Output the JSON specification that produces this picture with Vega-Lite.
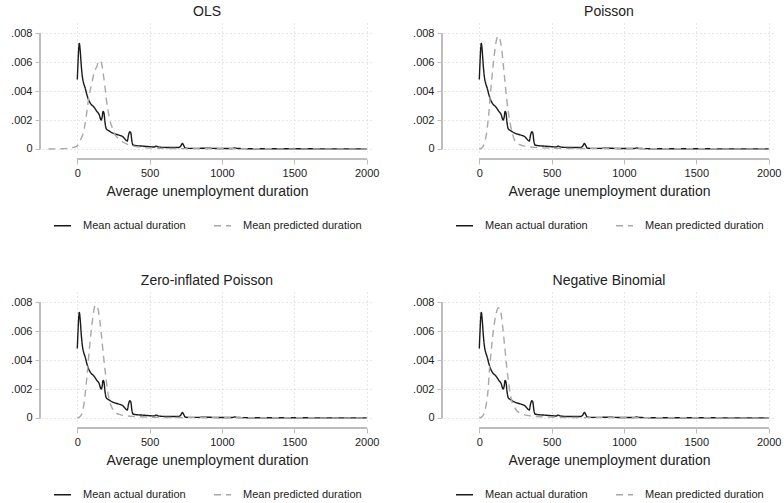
{
  "$schema": "https://vega.github.io/schema/vega-lite/v6.json",
  "padding": {"left": 10, "top": 5, "right": 5, "bottom": 5},
  "background": "white",
  "config": {
    "font": "Liberation Sans",
    "view": {"stroke": null},
    "title": {"fontSize": 14, "fontWeight": "normal", "color": "#222222", "offset": 4, "anchor": "middle"},
    "axis": {
      "domain": false,
      "tickColor": "#bdbdbd",
      "tickSize": 5,
      "labelFontSize": 11,
      "labelColor": "#222222",
      "labelFont": "Liberation Sans",
      "titleFont": "Liberation Sans",
      "titleFontSize": 14,
      "titleFontWeight": "normal",
      "titleColor": "#222222",
      "grid": true,
      "gridColor": "#cfcfcf",
      "gridDash": [1, 3],
      "labelFlush": false,
      "labelOverlap": false
    },
    "legend": {
      "orient": "bottom",
      "direction": "horizontal",
      "title": null,
      "symbolType": "stroke",
      "symbolSize": 289,
      "symbolStrokeWidth": 1.5,
      "labelFontSize": 11,
      "labelColor": "#222222",
      "labelOffset": 11,
      "columnPadding": 25,
      "layout": {"bottom": {"anchor": "middle"}}
    }
  },
  "datasets": {
    "curves": [
      {"model": "all", "series": "Mean actual duration", "x": 0, "y": 0.0048},
      {"model": "all", "series": "Mean actual duration", "x": 5, "y": 0.0060},
      {"model": "all", "series": "Mean actual duration", "x": 10, "y": 0.0070},
      {"model": "all", "series": "Mean actual duration", "x": 14, "y": 0.0073},
      {"model": "all", "series": "Mean actual duration", "x": 20, "y": 0.0068},
      {"model": "all", "series": "Mean actual duration", "x": 28, "y": 0.0057},
      {"model": "all", "series": "Mean actual duration", "x": 35, "y": 0.0050},
      {"model": "all", "series": "Mean actual duration", "x": 45, "y": 0.0045},
      {"model": "all", "series": "Mean actual duration", "x": 55, "y": 0.0042},
      {"model": "all", "series": "Mean actual duration", "x": 65, "y": 0.0038},
      {"model": "all", "series": "Mean actual duration", "x": 78, "y": 0.0034},
      {"model": "all", "series": "Mean actual duration", "x": 95, "y": 0.0031},
      {"model": "all", "series": "Mean actual duration", "x": 115, "y": 0.0029},
      {"model": "all", "series": "Mean actual duration", "x": 135, "y": 0.0026},
      {"model": "all", "series": "Mean actual duration", "x": 150, "y": 0.0024},
      {"model": "all", "series": "Mean actual duration", "x": 165, "y": 0.0020},
      {"model": "all", "series": "Mean actual duration", "x": 172, "y": 0.0022},
      {"model": "all", "series": "Mean actual duration", "x": 178, "y": 0.0026},
      {"model": "all", "series": "Mean actual duration", "x": 184, "y": 0.0025},
      {"model": "all", "series": "Mean actual duration", "x": 192, "y": 0.0018},
      {"model": "all", "series": "Mean actual duration", "x": 200, "y": 0.0014},
      {"model": "all", "series": "Mean actual duration", "x": 215, "y": 0.00128},
      {"model": "all", "series": "Mean actual duration", "x": 240, "y": 0.00112},
      {"model": "all", "series": "Mean actual duration", "x": 275, "y": 0.0010},
      {"model": "all", "series": "Mean actual duration", "x": 300, "y": 0.00092},
      {"model": "all", "series": "Mean actual duration", "x": 315, "y": 0.00085},
      {"model": "all", "series": "Mean actual duration", "x": 328, "y": 0.0007},
      {"model": "all", "series": "Mean actual duration", "x": 345, "y": 0.00055},
      {"model": "all", "series": "Mean actual duration", "x": 355, "y": 0.0010},
      {"model": "all", "series": "Mean actual duration", "x": 363, "y": 0.0012},
      {"model": "all", "series": "Mean actual duration", "x": 370, "y": 0.0011},
      {"model": "all", "series": "Mean actual duration", "x": 378, "y": 0.0005},
      {"model": "all", "series": "Mean actual duration", "x": 386, "y": 0.00027},
      {"model": "all", "series": "Mean actual duration", "x": 400, "y": 0.00024},
      {"model": "all", "series": "Mean actual duration", "x": 450, "y": 0.0002},
      {"model": "all", "series": "Mean actual duration", "x": 500, "y": 0.00016},
      {"model": "all", "series": "Mean actual duration", "x": 530, "y": 0.00014},
      {"model": "all", "series": "Mean actual duration", "x": 545, "y": 0.0002},
      {"model": "all", "series": "Mean actual duration", "x": 560, "y": 0.00014},
      {"model": "all", "series": "Mean actual duration", "x": 600, "y": 0.00011},
      {"model": "all", "series": "Mean actual duration", "x": 650, "y": 0.0001},
      {"model": "all", "series": "Mean actual duration", "x": 700, "y": 0.0001},
      {"model": "all", "series": "Mean actual duration", "x": 715, "y": 0.0002},
      {"model": "all", "series": "Mean actual duration", "x": 726, "y": 0.00038},
      {"model": "all", "series": "Mean actual duration", "x": 736, "y": 0.00024},
      {"model": "all", "series": "Mean actual duration", "x": 746, "y": 0.00006},
      {"model": "all", "series": "Mean actual duration", "x": 780, "y": 0.00004},
      {"model": "all", "series": "Mean actual duration", "x": 900, "y": 0.00005},
      {"model": "all", "series": "Mean actual duration", "x": 1000, "y": 0.00003},
      {"model": "all", "series": "Mean actual duration", "x": 1070, "y": 0.00003},
      {"model": "all", "series": "Mean actual duration", "x": 1088, "y": 0.00008},
      {"model": "all", "series": "Mean actual duration", "x": 1105, "y": 0.00004},
      {"model": "all", "series": "Mean actual duration", "x": 1200, "y": 0.00002},
      {"model": "all", "series": "Mean actual duration", "x": 1450, "y": 0.00002},
      {"model": "all", "series": "Mean actual duration", "x": 1700, "y": 0.00001},
      {"model": "all", "series": "Mean actual duration", "x": 2000, "y": 0.00001},

      {"model": "OLS", "series": "Mean predicted duration", "x": -200, "y": 0.0},
      {"model": "OLS", "series": "Mean predicted duration", "x": -150, "y": 0.00001},
      {"model": "OLS", "series": "Mean predicted duration", "x": -100, "y": 0.00002},
      {"model": "OLS", "series": "Mean predicted duration", "x": -60, "y": 0.00004},
      {"model": "OLS", "series": "Mean predicted duration", "x": -30, "y": 0.0001},
      {"model": "OLS", "series": "Mean predicted duration", "x": -10, "y": 0.00016},
      {"model": "OLS", "series": "Mean predicted duration", "x": 0, "y": 0.00023},
      {"model": "OLS", "series": "Mean predicted duration", "x": 15, "y": 0.0005},
      {"model": "OLS", "series": "Mean predicted duration", "x": 30, "y": 0.0008},
      {"model": "OLS", "series": "Mean predicted duration", "x": 42, "y": 0.00115},
      {"model": "OLS", "series": "Mean predicted duration", "x": 55, "y": 0.0018},
      {"model": "OLS", "series": "Mean predicted duration", "x": 65, "y": 0.0025},
      {"model": "OLS", "series": "Mean predicted duration", "x": 77, "y": 0.0034},
      {"model": "OLS", "series": "Mean predicted duration", "x": 90, "y": 0.0041},
      {"model": "OLS", "series": "Mean predicted duration", "x": 100, "y": 0.0045},
      {"model": "OLS", "series": "Mean predicted duration", "x": 112, "y": 0.0051},
      {"model": "OLS", "series": "Mean predicted duration", "x": 125, "y": 0.0055},
      {"model": "OLS", "series": "Mean predicted duration", "x": 135, "y": 0.0057},
      {"model": "OLS", "series": "Mean predicted duration", "x": 145, "y": 0.0060},
      {"model": "OLS", "series": "Mean predicted duration", "x": 158, "y": 0.0061},
      {"model": "OLS", "series": "Mean predicted duration", "x": 168, "y": 0.0059},
      {"model": "OLS", "series": "Mean predicted duration", "x": 178, "y": 0.0053},
      {"model": "OLS", "series": "Mean predicted duration", "x": 190, "y": 0.0044},
      {"model": "OLS", "series": "Mean predicted duration", "x": 200, "y": 0.0035},
      {"model": "OLS", "series": "Mean predicted duration", "x": 210, "y": 0.0028},
      {"model": "OLS", "series": "Mean predicted duration", "x": 225, "y": 0.0020},
      {"model": "OLS", "series": "Mean predicted duration", "x": 240, "y": 0.0015},
      {"model": "OLS", "series": "Mean predicted duration", "x": 260, "y": 0.0010},
      {"model": "OLS", "series": "Mean predicted duration", "x": 287, "y": 0.0007},
      {"model": "OLS", "series": "Mean predicted duration", "x": 320, "y": 0.00045},
      {"model": "OLS", "series": "Mean predicted duration", "x": 360, "y": 0.00028},
      {"model": "OLS", "series": "Mean predicted duration", "x": 400, "y": 0.00018},
      {"model": "OLS", "series": "Mean predicted duration", "x": 450, "y": 0.00011},
      {"model": "OLS", "series": "Mean predicted duration", "x": 500, "y": 0.00007},
      {"model": "OLS", "series": "Mean predicted duration", "x": 600, "y": 0.00004},
      {"model": "OLS", "series": "Mean predicted duration", "x": 700, "y": 0.00003},
      {"model": "OLS", "series": "Mean predicted duration", "x": 800, "y": 0.00002},
      {"model": "OLS", "series": "Mean predicted duration", "x": 1000, "y": 0.00002},
      {"model": "OLS", "series": "Mean predicted duration", "x": 1500, "y": 0.00001},
      {"model": "OLS", "series": "Mean predicted duration", "x": 2000, "y": 0.00001},

      {"model": "Poisson", "series": "Mean predicted duration", "x": 0, "y": 0.0},
      {"model": "Poisson", "series": "Mean predicted duration", "x": 20, "y": 0.0001},
      {"model": "Poisson", "series": "Mean predicted duration", "x": 35, "y": 0.0004},
      {"model": "Poisson", "series": "Mean predicted duration", "x": 45, "y": 0.0008},
      {"model": "Poisson", "series": "Mean predicted duration", "x": 51, "y": 0.00115},
      {"model": "Poisson", "series": "Mean predicted duration", "x": 60, "y": 0.0019},
      {"model": "Poisson", "series": "Mean predicted duration", "x": 68, "y": 0.0027},
      {"model": "Poisson", "series": "Mean predicted duration", "x": 74, "y": 0.0035},
      {"model": "Poisson", "series": "Mean predicted duration", "x": 85, "y": 0.0047},
      {"model": "Poisson", "series": "Mean predicted duration", "x": 97, "y": 0.0059},
      {"model": "Poisson", "series": "Mean predicted duration", "x": 110, "y": 0.0070},
      {"model": "Poisson", "series": "Mean predicted duration", "x": 120, "y": 0.0076},
      {"model": "Poisson", "series": "Mean predicted duration", "x": 131, "y": 0.0078},
      {"model": "Poisson", "series": "Mean predicted duration", "x": 142, "y": 0.0076},
      {"model": "Poisson", "series": "Mean predicted duration", "x": 155, "y": 0.0069},
      {"model": "Poisson", "series": "Mean predicted duration", "x": 166, "y": 0.0058},
      {"model": "Poisson", "series": "Mean predicted duration", "x": 178, "y": 0.0046},
      {"model": "Poisson", "series": "Mean predicted duration", "x": 189, "y": 0.0035},
      {"model": "Poisson", "series": "Mean predicted duration", "x": 200, "y": 0.0026},
      {"model": "Poisson", "series": "Mean predicted duration", "x": 217, "y": 0.0016},
      {"model": "Poisson", "series": "Mean predicted duration", "x": 240, "y": 0.0007},
      {"model": "Poisson", "series": "Mean predicted duration", "x": 260, "y": 0.0004},
      {"model": "Poisson", "series": "Mean predicted duration", "x": 280, "y": 0.0003},
      {"model": "Poisson", "series": "Mean predicted duration", "x": 320, "y": 0.00018},
      {"model": "Poisson", "series": "Mean predicted duration", "x": 400, "y": 0.0001},
      {"model": "Poisson", "series": "Mean predicted duration", "x": 500, "y": 0.00006},
      {"model": "Poisson", "series": "Mean predicted duration", "x": 700, "y": 0.00003},
      {"model": "Poisson", "series": "Mean predicted duration", "x": 1000, "y": 0.00002},
      {"model": "Poisson", "series": "Mean predicted duration", "x": 2000, "y": 0.00001},

      {"model": "ZIP", "series": "Mean predicted duration", "x": 0, "y": 0.0},
      {"model": "ZIP", "series": "Mean predicted duration", "x": 20, "y": 0.0001},
      {"model": "ZIP", "series": "Mean predicted duration", "x": 35, "y": 0.0004},
      {"model": "ZIP", "series": "Mean predicted duration", "x": 45, "y": 0.0009},
      {"model": "ZIP", "series": "Mean predicted duration", "x": 55, "y": 0.0017},
      {"model": "ZIP", "series": "Mean predicted duration", "x": 62, "y": 0.0024},
      {"model": "ZIP", "series": "Mean predicted duration", "x": 70, "y": 0.0032},
      {"model": "ZIP", "series": "Mean predicted duration", "x": 82, "y": 0.0046},
      {"model": "ZIP", "series": "Mean predicted duration", "x": 95, "y": 0.0059},
      {"model": "ZIP", "series": "Mean predicted duration", "x": 108, "y": 0.0070},
      {"model": "ZIP", "series": "Mean predicted duration", "x": 120, "y": 0.0077},
      {"model": "ZIP", "series": "Mean predicted duration", "x": 132, "y": 0.0078},
      {"model": "ZIP", "series": "Mean predicted duration", "x": 144, "y": 0.0075},
      {"model": "ZIP", "series": "Mean predicted duration", "x": 156, "y": 0.0067},
      {"model": "ZIP", "series": "Mean predicted duration", "x": 168, "y": 0.0056},
      {"model": "ZIP", "series": "Mean predicted duration", "x": 180, "y": 0.0044},
      {"model": "ZIP", "series": "Mean predicted duration", "x": 193, "y": 0.0032},
      {"model": "ZIP", "series": "Mean predicted duration", "x": 205, "y": 0.0022},
      {"model": "ZIP", "series": "Mean predicted duration", "x": 220, "y": 0.0013},
      {"model": "ZIP", "series": "Mean predicted duration", "x": 240, "y": 0.0007},
      {"model": "ZIP", "series": "Mean predicted duration", "x": 260, "y": 0.0004},
      {"model": "ZIP", "series": "Mean predicted duration", "x": 290, "y": 0.00025},
      {"model": "ZIP", "series": "Mean predicted duration", "x": 330, "y": 0.00016},
      {"model": "ZIP", "series": "Mean predicted duration", "x": 400, "y": 0.0001},
      {"model": "ZIP", "series": "Mean predicted duration", "x": 500, "y": 0.00006},
      {"model": "ZIP", "series": "Mean predicted duration", "x": 700, "y": 0.00003},
      {"model": "ZIP", "series": "Mean predicted duration", "x": 1000, "y": 0.00002},
      {"model": "ZIP", "series": "Mean predicted duration", "x": 2000, "y": 0.00001},

      {"model": "NB", "series": "Mean predicted duration", "x": 0, "y": 0.0},
      {"model": "NB", "series": "Mean predicted duration", "x": 20, "y": 0.0001},
      {"model": "NB", "series": "Mean predicted duration", "x": 35, "y": 0.0004},
      {"model": "NB", "series": "Mean predicted duration", "x": 45, "y": 0.0008},
      {"model": "NB", "series": "Mean predicted duration", "x": 55, "y": 0.0014},
      {"model": "NB", "series": "Mean predicted duration", "x": 62, "y": 0.0021},
      {"model": "NB", "series": "Mean predicted duration", "x": 69, "y": 0.0032},
      {"model": "NB", "series": "Mean predicted duration", "x": 80, "y": 0.0044},
      {"model": "NB", "series": "Mean predicted duration", "x": 92, "y": 0.0056},
      {"model": "NB", "series": "Mean predicted duration", "x": 105, "y": 0.0066},
      {"model": "NB", "series": "Mean predicted duration", "x": 118, "y": 0.0073},
      {"model": "NB", "series": "Mean predicted duration", "x": 130, "y": 0.0076},
      {"model": "NB", "series": "Mean predicted duration", "x": 140, "y": 0.0076},
      {"model": "NB", "series": "Mean predicted duration", "x": 152, "y": 0.0071},
      {"model": "NB", "series": "Mean predicted duration", "x": 165, "y": 0.0060},
      {"model": "NB", "series": "Mean predicted duration", "x": 178, "y": 0.0047},
      {"model": "NB", "series": "Mean predicted duration", "x": 190, "y": 0.0035},
      {"model": "NB", "series": "Mean predicted duration", "x": 202, "y": 0.0025},
      {"model": "NB", "series": "Mean predicted duration", "x": 217, "y": 0.0015},
      {"model": "NB", "series": "Mean predicted duration", "x": 240, "y": 0.0008},
      {"model": "NB", "series": "Mean predicted duration", "x": 260, "y": 0.0005},
      {"model": "NB", "series": "Mean predicted duration", "x": 290, "y": 0.0003},
      {"model": "NB", "series": "Mean predicted duration", "x": 330, "y": 0.00018},
      {"model": "NB", "series": "Mean predicted duration", "x": 400, "y": 0.0001},
      {"model": "NB", "series": "Mean predicted duration", "x": 500, "y": 0.00006},
      {"model": "NB", "series": "Mean predicted duration", "x": 700, "y": 0.00003},
      {"model": "NB", "series": "Mean predicted duration", "x": 1000, "y": 0.00002},
      {"model": "NB", "series": "Mean predicted duration", "x": 2000, "y": 0.00001}
    ]
  },
  "columns": 2,
  "spacing": {"row": 43, "column": 33},
  "resolve": {
    "scale": {"x": "independent", "y": "independent", "color": "independent", "strokeDash": "independent"},
    "legend": {"color": "independent", "strokeDash": "independent"}
  },
  "concat": [
    {
      "title": "OLS",
      "width": 330, "height": 132,
      "data": {"name": "curves"},
      "transform": [{"filter": "datum.model == 'all' || datum.model == 'OLS'"}],
      "layer": [
        {
          "mark": {"type": "line", "strokeWidth": 1.4, "interpolate": "monotone"},
          "encoding": {
            "x": {"field": "x", "type": "quantitative", "scale": {"domain": [-244, 2037], "nice": false, "zero": false},
                  "axis": {"values": [0, 500, 1000, 1500, 2000], "tickCount": 10, "format": "d", "offset": 4, "title": "Average unemployment duration", "titlePadding": 6, "labelPadding": 3, "labelOverlap": false}},
            "y": {"field": "y", "type": "quantitative", "scale": {"domain": [-0.000415, 0.00871], "nice": false, "zero": false},
                  "axis": {"values": [0, 0.002, 0.004, 0.006, 0.008], "tickCount": 10, "offset": 2, "title": null, "labelPadding": 3, "labelOverlap": false,
                           "labelExpr": "datum.value == 0 ? '0' : slice(format(datum.value, '.3f'), 1)"}},
            "color": {"field": "series", "type": "nominal", "scale": {"domain": ["Mean actual duration", "Mean predicted duration"], "range": ["#1a1a1a", "#a8a8a8"]}},
            "strokeDash": {"field": "series", "type": "nominal", "scale": {"domain": ["Mean actual duration", "Mean predicted duration"], "range": [[1, 0], [7, 5]]}}
          }
        },
        {"mark": {"type": "rule", "color": "#bdbdbd", "strokeWidth": 1},
         "encoding": {"x": {"datum": 0}, "x2": {"datum": 2000}, "y": {"datum": -0.00069}}},
        {"mark": {"type": "rule", "color": "#bdbdbd", "strokeWidth": 1},
         "encoding": {"x": {"datum": -258}, "y": {"datum": 0}, "y2": {"datum": 0.008}}}
      ]
    },
    {
      "title": "Poisson",
      "width": 330, "height": 132,
      "data": {"name": "curves"},
      "transform": [{"filter": "datum.model == 'all' || datum.model == 'Poisson'"}],
      "layer": [
        {
          "mark": {"type": "line", "strokeWidth": 1.4, "interpolate": "monotone"},
          "encoding": {
            "x": {"field": "x", "type": "quantitative", "scale": {"domain": [-244, 2037], "nice": false, "zero": false},
                  "axis": {"values": [0, 500, 1000, 1500, 2000], "tickCount": 10, "format": "d", "offset": 4, "title": "Average unemployment duration", "titlePadding": 6, "labelPadding": 3, "labelOverlap": false}},
            "y": {"field": "y", "type": "quantitative", "scale": {"domain": [-0.000415, 0.00871], "nice": false, "zero": false},
                  "axis": {"values": [0, 0.002, 0.004, 0.006, 0.008], "tickCount": 10, "offset": 2, "title": null, "labelPadding": 3, "labelOverlap": false,
                           "labelExpr": "datum.value == 0 ? '0' : slice(format(datum.value, '.3f'), 1)"}},
            "color": {"field": "series", "type": "nominal", "scale": {"domain": ["Mean actual duration", "Mean predicted duration"], "range": ["#1a1a1a", "#a8a8a8"]}},
            "strokeDash": {"field": "series", "type": "nominal", "scale": {"domain": ["Mean actual duration", "Mean predicted duration"], "range": [[1, 0], [7, 5]]}}
          }
        },
        {"mark": {"type": "rule", "color": "#bdbdbd", "strokeWidth": 1},
         "encoding": {"x": {"datum": 0}, "x2": {"datum": 2000}, "y": {"datum": -0.00069}}},
        {"mark": {"type": "rule", "color": "#bdbdbd", "strokeWidth": 1},
         "encoding": {"x": {"datum": -258}, "y": {"datum": 0}, "y2": {"datum": 0.008}}}
      ]
    },
    {
      "title": "Zero-inflated Poisson",
      "width": 330, "height": 132,
      "data": {"name": "curves"},
      "transform": [{"filter": "datum.model == 'all' || datum.model == 'ZIP'"}],
      "layer": [
        {
          "mark": {"type": "line", "strokeWidth": 1.4, "interpolate": "monotone"},
          "encoding": {
            "x": {"field": "x", "type": "quantitative", "scale": {"domain": [-244, 2037], "nice": false, "zero": false},
                  "axis": {"values": [0, 500, 1000, 1500, 2000], "tickCount": 10, "format": "d", "offset": 4, "title": "Average unemployment duration", "titlePadding": 6, "labelPadding": 3, "labelOverlap": false}},
            "y": {"field": "y", "type": "quantitative", "scale": {"domain": [-0.000415, 0.00871], "nice": false, "zero": false},
                  "axis": {"values": [0, 0.002, 0.004, 0.006, 0.008], "tickCount": 10, "offset": 2, "title": null, "labelPadding": 3, "labelOverlap": false,
                           "labelExpr": "datum.value == 0 ? '0' : slice(format(datum.value, '.3f'), 1)"}},
            "color": {"field": "series", "type": "nominal", "scale": {"domain": ["Mean actual duration", "Mean predicted duration"], "range": ["#1a1a1a", "#a8a8a8"]}},
            "strokeDash": {"field": "series", "type": "nominal", "scale": {"domain": ["Mean actual duration", "Mean predicted duration"], "range": [[1, 0], [7, 5]]}}
          }
        },
        {"mark": {"type": "rule", "color": "#bdbdbd", "strokeWidth": 1},
         "encoding": {"x": {"datum": 0}, "x2": {"datum": 2000}, "y": {"datum": -0.00069}}},
        {"mark": {"type": "rule", "color": "#bdbdbd", "strokeWidth": 1},
         "encoding": {"x": {"datum": -258}, "y": {"datum": 0}, "y2": {"datum": 0.008}}}
      ]
    },
    {
      "title": "Negative Binomial",
      "width": 330, "height": 132,
      "data": {"name": "curves"},
      "transform": [{"filter": "datum.model == 'all' || datum.model == 'NB'"}],
      "layer": [
        {
          "mark": {"type": "line", "strokeWidth": 1.4, "interpolate": "monotone"},
          "encoding": {
            "x": {"field": "x", "type": "quantitative", "scale": {"domain": [-244, 2037], "nice": false, "zero": false},
                  "axis": {"values": [0, 500, 1000, 1500, 2000], "tickCount": 10, "format": "d", "offset": 4, "title": "Average unemployment duration", "titlePadding": 6, "labelPadding": 3, "labelOverlap": false}},
            "y": {"field": "y", "type": "quantitative", "scale": {"domain": [-0.000415, 0.00871], "nice": false, "zero": false},
                  "axis": {"values": [0, 0.002, 0.004, 0.006, 0.008], "tickCount": 10, "offset": 2, "title": null, "labelPadding": 3, "labelOverlap": false,
                           "labelExpr": "datum.value == 0 ? '0' : slice(format(datum.value, '.3f'), 1)"}},
            "color": {"field": "series", "type": "nominal", "scale": {"domain": ["Mean actual duration", "Mean predicted duration"], "range": ["#1a1a1a", "#a8a8a8"]}},
            "strokeDash": {"field": "series", "type": "nominal", "scale": {"domain": ["Mean actual duration", "Mean predicted duration"], "range": [[1, 0], [7, 5]]}}
          }
        },
        {"mark": {"type": "rule", "color": "#bdbdbd", "strokeWidth": 1},
         "encoding": {"x": {"datum": 0}, "x2": {"datum": 2000}, "y": {"datum": -0.00069}}},
        {"mark": {"type": "rule", "color": "#bdbdbd", "strokeWidth": 1},
         "encoding": {"x": {"datum": -258}, "y": {"datum": 0}, "y2": {"datum": 0.008}}}
      ]
    }
  ]
}
